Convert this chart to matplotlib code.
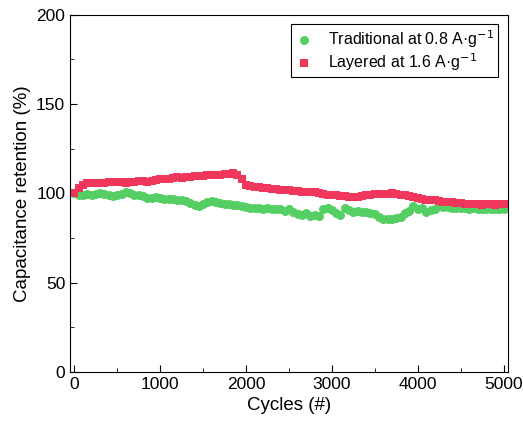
import matplotlib
matplotlib.use("Agg")
import matplotlib.pyplot as plt
from matplotlib.ticker import MultipleLocator

plt.rcParams['font.family'] = ['Liberation Sans', 'DejaVu Sans']

cycles = list(range(0, 5001, 50))

traditional = [100, 99, 99, 99.5, 99, 99.5, 100, 99.5, 99, 98.5,
               99, 99.5, 101, 100, 99, 99, 98.5, 97.5, 97.5, 98,
               97.5, 97, 97, 97, 96.5, 96, 95.5, 94.5, 93.5, 93,
               94, 95, 95.5, 95, 94.5, 94, 94, 93.5, 93.5, 93,
               92.5, 92, 92, 92, 91.5, 92, 91, 91.5, 91, 90,
               91, 89.5, 88.5, 88, 89, 87.5, 88, 87.5, 91, 92,
               90.5, 89, 88, 92, 90.5, 89.5, 90, 89.5, 89.5, 89,
               88.5, 86.5, 85.5, 85.5, 85.5, 86, 87, 89, 90, 93,
               91.5, 92, 89.5, 90.5, 91.5, 93, 92.5, 92.5, 92, 92,
               92, 92, 91.5, 92, 91.5, 91, 91.5, 91.5, 91, 91, 91]

layered = [100, 103, 104.5, 106, 106, 106, 106, 106, 106.5, 106.5,
           106.5, 106.5, 106, 106.5, 106.5, 107, 107, 106.5, 107, 107.5,
           108, 108, 108, 108.5, 109, 108.5, 109, 109, 109.5, 109.5,
           109.5, 110, 110, 110.5, 110.5, 111, 111, 111.5, 110.5, 108,
           104.5, 104, 103.5, 103.5, 103, 103, 102.5, 102.5, 102, 102,
           102, 101.5, 101.5, 101, 101, 101, 100.5, 100, 99.5, 99,
           99, 99, 98.5, 98.5, 98, 98, 98, 98.5, 99, 99,
           99.5, 99.5, 99.5, 99.5, 100, 99.5, 99, 99, 98.5, 98,
           97.5, 97, 96.5, 96.5, 96, 95.5, 95, 95, 95, 94.5,
           94.5, 94, 94, 94, 94, 93.5, 94, 94, 93.5, 94, 94]

fig = plt.figure(figsize=(5.23, 4.24), dpi=100)
ax = fig.add_axes([0.134, 0.123, 0.837, 0.842])

ax.plot(cycles, traditional, 'o', color='#55cf63', markersize=6.5,
        markeredgewidth=0, label='Traditional at 0.8 A·g$^{-1}$')
ax.plot(cycles, layered, 's', color='#f0365a', markersize=6,
        markeredgewidth=0, label='Layered at 1.6 A·g$^{-1}$')

ax.set_xlim(-50, 5050)
ax.set_ylim(0, 200)
ax.xaxis.set_major_locator(MultipleLocator(1000))
ax.xaxis.set_minor_locator(MultipleLocator(500))
ax.yaxis.set_major_locator(MultipleLocator(50))
ax.yaxis.set_minor_locator(MultipleLocator(25))
ax.tick_params(which='both', direction='in', labelsize=12.5)
ax.tick_params(which='major', length=5)
ax.tick_params(which='minor', length=3)

ax.set_xlabel('Cycles (#)', fontsize=13.5)
ax.set_ylabel('Capacitance retention (%)', fontsize=13.5)

leg = ax.legend(loc='upper right', fontsize=11.5, fancybox=False,
                edgecolor='black', framealpha=1, handlelength=1.2,
                handletextpad=0.9, labelspacing=0.1, borderpad=0.25,
                borderaxespad=0.6)
leg.get_frame().set_linewidth(0.8)

fig.savefig('out.png', dpi=100)
